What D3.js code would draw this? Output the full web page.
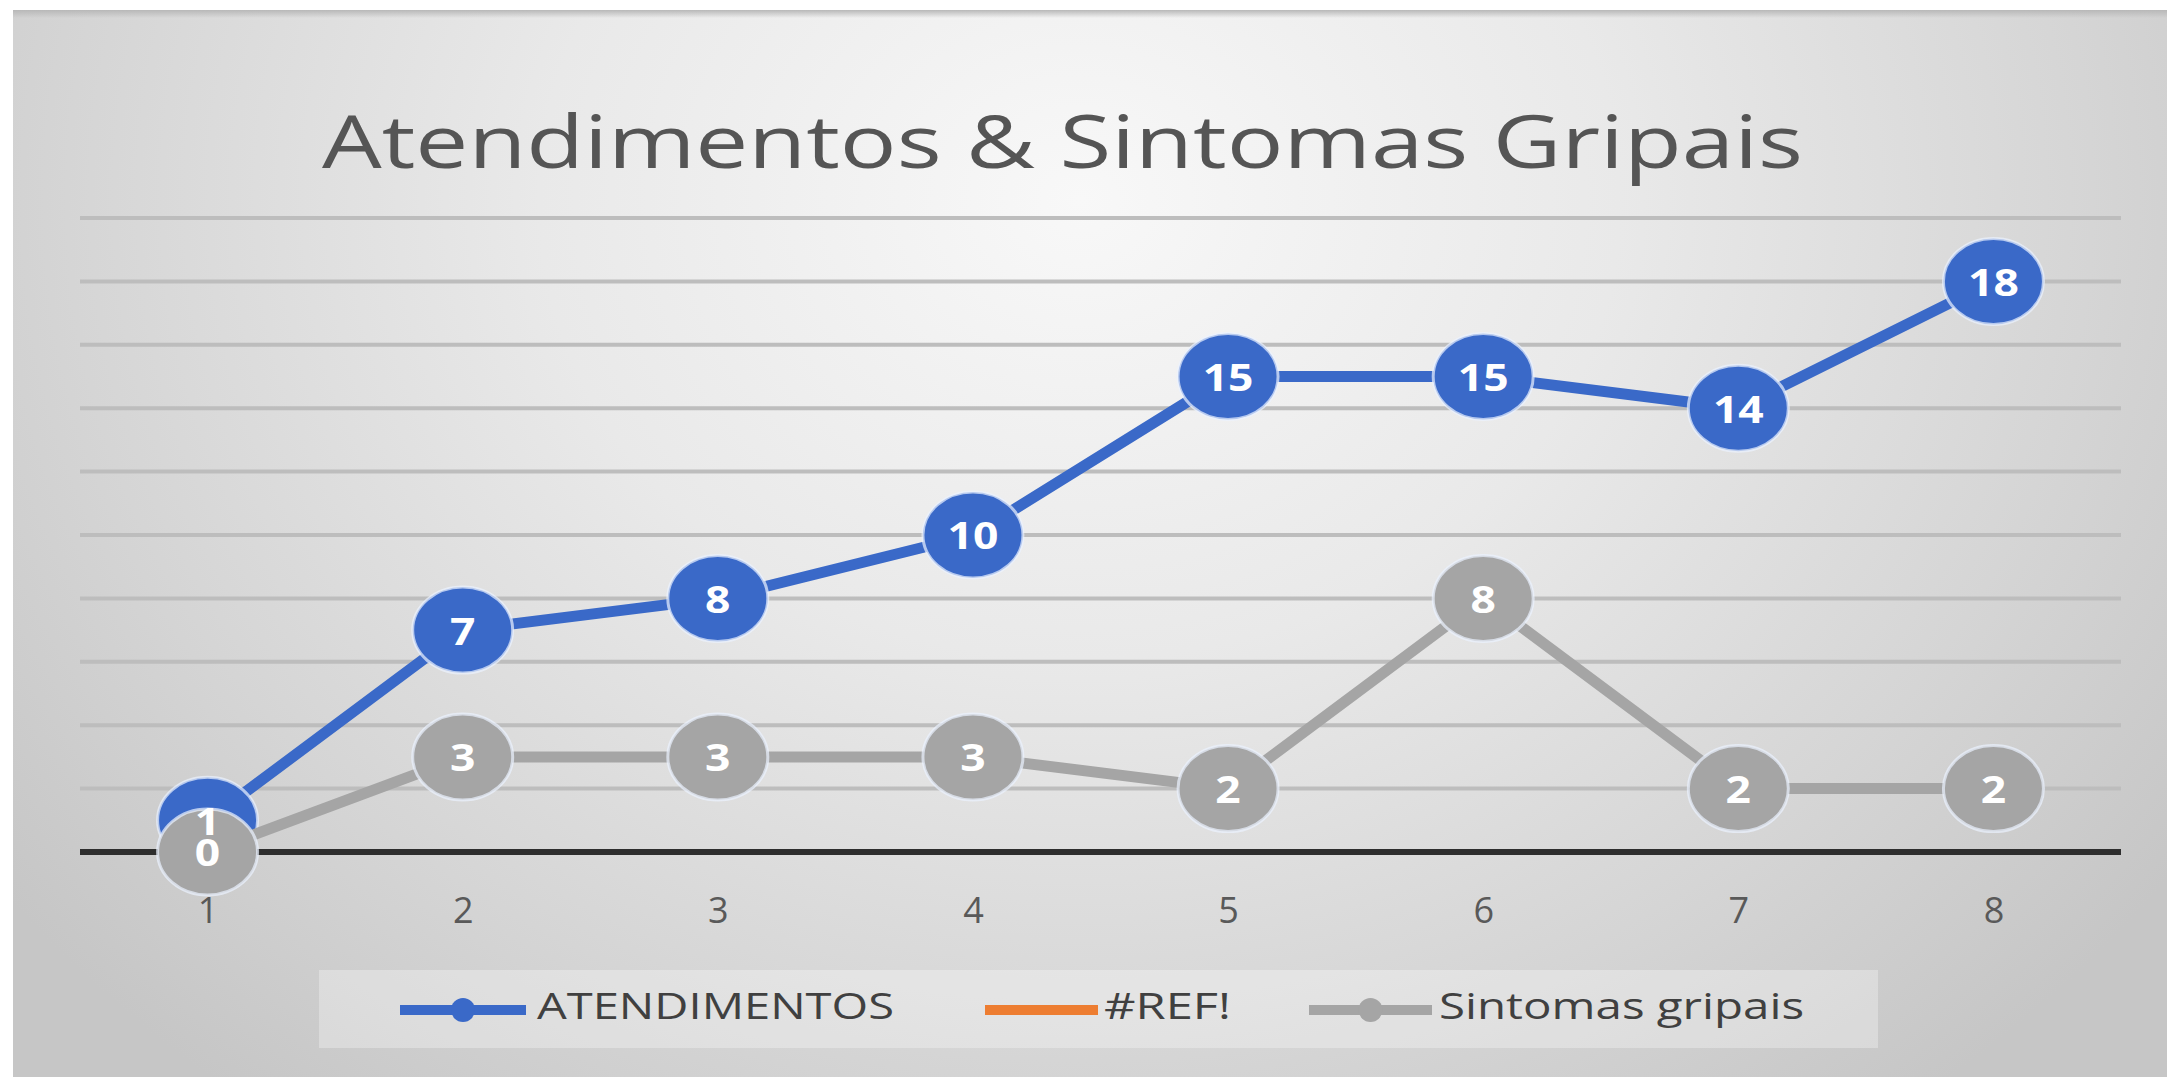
<!DOCTYPE html>
<html>

<head>
  <meta charset="utf-8">
  <script src="https://d3js.org/d3.v7.min.js"></script>
  <style>
    body {
      margin: 0;
      background: #ffffff;
      font-family: "Open Sans", sans-serif;
    }

    .grid line {
      stroke: #bdbdbd;
      stroke-width: 4;
    }

    .tick-label {
      fill: #595959;
      font-size: 36px;
      text-anchor: middle;
    }

    .point-label {
      fill: #ffffff;
      font-size: 37px;
      font-weight: 700;
      text-anchor: middle;
      dominant-baseline: central;
    }

    .legend-text {
      fill: #404040;
      font-size: 36px;
    }
  </style>
</head>

<body>
  <script type="text/javascript">
    // values
    var categories = [1, 2, 3, 4, 5, 6, 7, 8];
    var atendimentos = [1, 7, 8, 10, 15, 15, 14, 18];
    var sintomas = [0, 3, 3, 3, 2, 8, 2, 2];
    var yTicks = [2, 4, 6, 8, 10, 12, 14, 16, 18, 20];
    var seriesNames = ["ATENDIMENTOS", "#REF!", "Sintomas gripais"];
    var seriesColors = ["#3a69c8", "#ed7d31", "#a5a5a5"];

    function draw() {
      "use strict";
      var width = 2167,
        height = 1077,
        plotLeft = 80,
        plotRight = 2121,
        plotTop = 218,
        plotBottom = 852;

      var svg = d3.select("body")
        .append("svg")
        .attr("width", width)
        .attr("height", height);

      var defs = svg.append("defs");

      var bg = defs.append("radialGradient")
        .attr("id", "bg")
        .attr("gradientUnits", "userSpaceOnUse")
        .attr("cx", 1080)
        .attr("cy", 200)
        .attr("r", 1350)
        .attr("gradientTransform", "translate(1080,200) scale(1,0.85) translate(-1080,-200)");
      bg.append("stop").attr("offset", 0).attr("stop-color", "#f8f8f8");
      bg.append("stop").attr("offset", 0.4).attr("stop-color", "#e9e9e9");
      bg.append("stop").attr("offset", 0.75).attr("stop-color", "#d5d5d5");
      bg.append("stop").attr("offset", 1).attr("stop-color", "#c6c6c6");

      var shade = defs.append("linearGradient")
        .attr("id", "topShade")
        .attr("x1", 0).attr("y1", 0).attr("x2", 0).attr("y2", 1);
      shade.append("stop").attr("offset", 0).attr("stop-color", "#b8b8b8");
      shade.append("stop").attr("offset", 1).attr("stop-color", "#b8b8b8").attr("stop-opacity", 0);

      // chart background
      svg.append("rect")
        .attr("x", 13)
        .attr("y", 10)
        .attr("width", width - 13)
        .attr("height", height - 10)
        .attr("fill", "url(#bg)");

      svg.append("rect")
        .attr("x", 13)
        .attr("y", 10)
        .attr("width", width - 13)
        .attr("height", 8)
        .attr("fill", "url(#topShade)");

      svg.append("text")
        .attr("x", 322)
        .attr("y", 168)
        .attr("textLength", 1481)
        .attr("lengthAdjust", "spacingAndGlyphs")
        .style("font-size", "74px")
        .style("fill", "#555555")
        .text("Atendimentos & Sintomas Gripais");

      var x = d3.scalePoint()
        .domain(categories)
        .range([plotLeft, plotRight])
        .padding(0.5);

      var y = d3.scaleLinear()
        .domain([0, 20])
        .range([plotBottom, plotTop]);

      svg.append("g")
        .attr("class", "grid")
        .selectAll("line")
        .data(yTicks)
        .enter()
        .append("line")
        .attr("x1", plotLeft)
        .attr("x2", plotRight)
        .attr("y1", function(d) { return y(d); })
        .attr("y2", function(d) { return y(d); });

      // x axis, domain line only, labels below
      var xAxis = svg.append("g")
        .attr("transform", "translate(0," + plotBottom + ")")
        .call(d3.axisBottom(x).tickSize(0).tickPadding(0));
      xAxis.select(".domain")
        .attr("d", "M" + plotLeft + ",0H" + plotRight)
        .attr("stroke", "#2e2e2e")
        .attr("stroke-width", 6);
      xAxis.selectAll(".tick text")
        .attr("class", "tick-label")
        .attr("y", 71)
        .attr("dy", null)
        .style("font-family", "'Open Sans', sans-serif")
        .style("font-size", "36px");

      var line = d3.line()
        .x(function(d, i) { return x(categories[i]); })
        .y(function(d) { return y(d); });

      function drawSeries(values, color) {
        var g = svg.append("g");
        g.append("path")
          .datum(values)
          .attr("fill", "none")
          .attr("stroke", color)
          .attr("stroke-width", 11)
          .attr("stroke-linejoin", "round")
          .attr("d", line);
        g.selectAll("ellipse")
          .data(values)
          .enter()
          .append("ellipse")
          .attr("cx", function(d, i) { return x(categories[i]); })
          .attr("cy", function(d) { return y(d); })
          .attr("rx", 50)
          .attr("ry", 43)
          .attr("fill", color)
          .attr("stroke", "rgba(235,242,255,0.7)")
          .attr("stroke-width", 3);
      }

      drawSeries(atendimentos, seriesColors[0]);
      drawSeries(sintomas, seriesColors[2]);

      function drawLabels(values) {
        svg.append("g")
          .selectAll("text")
          .data(values)
          .enter()
          .append("text")
          .attr("class", "point-label")
          .attr("transform", function(d, i) {
            return "translate(" + x(categories[i]) + "," + y(d) + ") scale(1.2,1)";
          })
          .text(function(d) { return d; });
      }

      drawLabels(atendimentos);
      drawLabels(sintomas);

      // legend
      var legend = svg.append("g");
      legend.append("rect")
        .attr("x", 319)
        .attr("y", 970)
        .attr("width", 1559)
        .attr("height", 78)
        .attr("fill", "rgba(255,255,255,0.3)");

      var legendItems = [
        { line: [400, 526], text: 537, len: 357, marker: true },
        { line: [985, 1098], text: 1104, len: 127, marker: false },
        { line: [1309, 1432], text: 1439, len: 365, marker: true }
      ];

      legendItems.forEach(function(item, i) {
        legend.append("line")
          .attr("x1", item.line[0])
          .attr("x2", item.line[1])
          .attr("y1", 1010)
          .attr("y2", 1010)
          .attr("stroke", seriesColors[i])
          .attr("stroke-width", 10);
        if (item.marker) {
          legend.append("circle")
            .attr("cx", (item.line[0] + item.line[1]) / 2)
            .attr("cy", 1010)
            .attr("r", 12)
            .attr("fill", seriesColors[i]);
        }
        legend.append("text")
          .attr("class", "legend-text")
          .attr("x", item.text)
          .attr("y", 1019)
          .attr("textLength", item.len)
          .attr("lengthAdjust", "spacingAndGlyphs")
          .text(seriesNames[i]);
      });
    }

    draw();
  </script>
</body>

</html>
